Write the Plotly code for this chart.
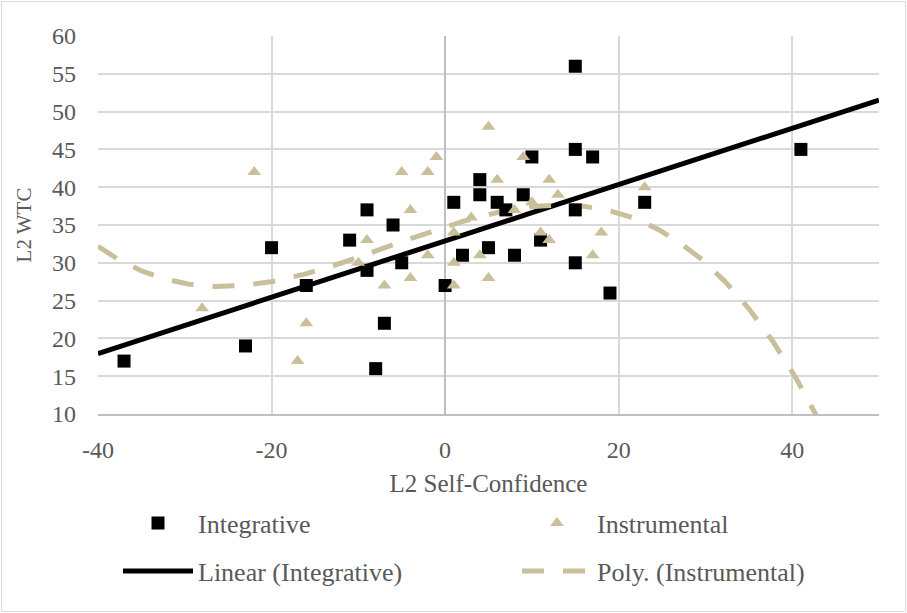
import numpy as np
import plotly.graph_objects as go

# Integrative group (L2 Self-Confidence, L2 WTC)
integ_x = [-37, -23, -20, -16, -11, -9, -9, -8, -7, -6, -5, 0, 1, 2, 4, 4, 5, 6, 7, 8, 9, 10, 11, 15, 15, 15, 15, 17, 19, 23, 41]
integ_y = [17, 19, 32, 27, 33, 37, 29, 16, 22, 35, 30, 27, 38, 31, 41, 39, 32, 38, 37, 31, 39, 44, 33, 56, 45, 37, 30, 44, 26, 38, 45]

# Instrumental group
instr_x = [-28, -22, -17, -16, -10, -9, -7, -5, -4, -4, -2, -2, -1, 1, 1, 1, 3, 4, 5, 5, 6, 8, 9, 10, 11, 12, 12, 13, 17, 18, 23]
instr_y = [24, 42, 17, 22, 30, 33, 27, 42, 37, 28, 42, 31, 44, 34, 30, 27, 36, 31, 48, 28, 41, 37, 44, 38, 34, 41, 33, 39, 31, 34, 40]

x_ticks = [-40, -20, 0, 20, 40]
y_ticks = [10, 15, 20, 25, 30, 35, 40, 45, 50, 55, 60]

GREY = "#595959"
TAN = "#C9BF9B"
FONT = "'Liberation Serif', 'Times New Roman', serif"

# trendlines fitted from the data
lin = np.polyfit(integ_x, integ_y, 1)
poly = np.polyfit(instr_x, instr_y, 3)
tx = np.linspace(-40, 50, 400)
lin_y = np.polyval(lin, tx)
poly_y = np.polyval(poly, tx)

fig = go.Figure()
fig.add_trace(go.Scatter(x=tx, y=lin_y, mode="lines", name="Linear (Integrative)",
                         line=dict(color="black", width=5), legend="legend2",
                         legendwidth=314))
fig.add_trace(go.Scatter(x=tx, y=poly_y, mode="lines", name="Poly. (Instrumental)",
                         line=dict(color=TAN, width=5, dash="22px,19px"), legend="legend2",
                         legendwidth=245))
fig.add_trace(go.Scatter(x=integ_x, y=integ_y, mode="markers", name="Integrative",
                         marker=dict(symbol="square", size=13, color="black"), legend="legend",
                         legendwidth=314))
fig.add_trace(go.Scatter(x=instr_x, y=instr_y, mode="markers", name="Instrumental",
                         marker=dict(symbol="triangle-up", size=12, color=TAN), legend="legend",
                         legendwidth=245))

W, H = 907, 613
L, R, T, B = 98, 28, 36, 199
pw, ph = W - L - R, H - T - B


def px_x(p):
    return (p - L) / pw


def px_y(p):
    return (H - B - p) / ph


legend_common = dict(orientation="h", xanchor="left", yanchor="middle",
                     font=dict(family=FONT, size=26, color=GREY),
                     itemwidth=70, bgcolor="rgba(0,0,0,0)",
                     traceorder="normal")

fig.update_layout(
    width=W, height=H,
    margin=dict(l=L, r=R, t=T, b=B),
    paper_bgcolor="white", plot_bgcolor="white",
    font=dict(family=FONT, size=24, color=GREY),
    showlegend=True,
    legend=dict(x=px_x(118), y=px_y(523), **legend_common),
    legend2=dict(x=px_x(118), y=px_y(571), **legend_common),
    xaxis=dict(range=[-40, 50], tickvals=x_ticks, ticktext=[str(v) for v in x_ticks],
               showgrid=True, gridcolor="#D9D9D9", gridwidth=1.5,
               zeroline=True, zerolinecolor="#BFBFBF", zerolinewidth=1.5,
               showline=True, linecolor="#BFBFBF", linewidth=1.5,
               ticks="", ticklabelstandoff=13,
               title=dict(text="L2 Self-Confidence", standoff=13,
                          font=dict(family=FONT, size=25, color=GREY)),
               tickfont=dict(family=FONT, size=24, color=GREY)),
    yaxis=dict(range=[10, 60], tickvals=y_ticks, ticktext=[str(v) for v in y_ticks],
               showgrid=True, gridcolor="#D9D9D9", gridwidth=1.5,
               zeroline=False, showline=False,
               ticks="", ticklabelstandoff=21,
               title=dict(text="L2 WTC", standoff=14,
                          font=dict(family=FONT, size=21, color=GREY)),
               tickfont=dict(family=FONT, size=24, color=GREY)),
    shapes=[dict(type="rect", xref="paper", yref="paper",
                 x0=px_x(1.5), x1=px_x(905.5), y0=px_y(611.5), y1=px_y(1.5),
                 line=dict(color="#D9D9D9", width=1), layer="below")],
)

post = """
document.body.style.margin='0';
document.body.style.overflow='hidden';
"""

fig.write_html("out.html", post_script=post, config={"displayModeBar": False})
